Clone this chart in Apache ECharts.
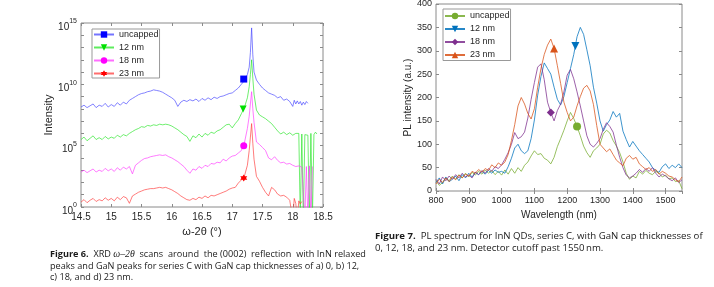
<!DOCTYPE html>
<html><head><meta charset="utf-8">
<script src="https://cdn.jsdelivr.net/npm/echarts@6/dist/echarts.min.js"></script>
<style>html,body{margin:0;padding:0;background:#fff}#c{width:714px;height:287px}</style>
</head><body><div id="c"></div>
<script>
// ---------- Figure 6 (XRD) : x in degrees, values are log10(intensity); -1 = detector drop-out ----------
const xrdX = [14.50,14.55,14.60,14.65,14.70,14.75,14.80,14.85,14.90,14.95,
  15.00,15.05,15.10,15.15,15.20,15.25,15.30,15.35,15.40,15.45,
  15.50,15.55,15.60,15.65,15.70,15.75,15.80,15.85,15.90,15.95,
  16.00,16.05,16.10,16.15,16.20,16.25,16.30,16.35,16.40,16.45,
  16.50,16.55,16.60,16.65,16.70,16.75,16.80,16.85,16.90,16.95,
  17.00,17.05,17.10,17.15,17.20,17.25,
  17.28,17.30,17.32,17.34,17.36,
  17.40,17.45,17.50,17.55,17.60,17.65,17.70,17.75,17.80,17.85,17.90,17.95,
  18.000,18.025,18.050,18.075,18.100,18.125,18.150,18.175,18.200,18.225,18.250,18.275,18.300,18.325,18.350,18.375,18.400];
const xrdUncappedLog = [8.15,8.30,8.10,8.25,8.40,8.10,8.30,8.20,8.45,8.15,
  8.35,8.20,8.50,8.30,8.55,8.40,8.70,8.85,9.00,9.15,
  9.25,9.30,9.40,9.45,9.55,9.50,9.45,9.35,9.20,9.05,
  8.90,8.70,8.20,8.55,8.70,8.60,8.75,8.65,8.80,8.60,
  8.85,8.70,8.90,8.75,8.95,8.85,9.00,9.05,9.15,9.25,
  9.30,9.50,9.70,10.00,10.30,10.80,
  11.40,12.60,14.60,12.40,11.00,
  10.35,10.00,9.70,9.50,9.30,9.20,9.10,8.90,9.00,8.70,8.80,8.60,
  8.20,8.70,8.40,8.65,8.40,8.60,8.30,8.55,8.35,8.60,8.45,null,null,null,null,null,null];
const xrd12Log = [5.50,5.70,5.40,5.60,5.80,5.50,5.65,5.50,5.75,5.55,
  5.70,5.60,5.85,5.70,5.90,5.80,6.00,6.15,6.30,6.40,
  6.55,6.50,6.65,6.60,6.70,6.65,6.75,6.70,6.75,6.70,
  6.60,6.45,6.30,6.10,5.90,5.75,5.35,5.80,5.65,5.95,
  5.70,6.00,5.85,6.10,6.00,6.20,6.30,6.50,6.70,6.75,
  6.45,6.80,7.10,7.60,8.10,8.90,
  9.80,10.80,12.00,10.50,9.20,
  7.90,7.50,7.35,7.20,7.00,6.80,6.50,6.20,5.95,6.10,5.90,6.05,
  5.85,5.95,6.00,5.90,6.00,-1,5.95,-1,5.90,6.05,5.85,-1,6.00,-1,5.90,6.10,5.95];
const xrd18Log = [2.85,3.00,2.80,2.95,3.10,2.85,3.00,2.90,3.15,2.95,
  3.10,2.90,3.20,3.00,3.25,3.10,3.30,2.70,3.40,3.60,
  3.80,3.95,4.00,4.10,4.15,4.20,4.25,4.20,4.25,4.10,
  4.00,3.85,3.70,3.50,3.30,3.00,2.75,3.10,3.00,3.30,
  3.15,3.40,3.30,3.55,3.50,3.65,3.60,3.90,3.75,4.00,
  4.15,4.20,4.40,4.60,5.20,6.40,
  7.40,8.40,9.40,8.00,6.90,
  5.30,5.10,4.85,4.60,4.00,3.85,4.10,3.80,3.60,3.65,3.50,3.55,
  3.40,3.50,3.30,3.45,3.35,3.40,3.25,3.40,-1,3.30,-1,3.35,-1,3.30,null,null,null];
const xrd23Log = [0.40,0.60,0.35,0.55,0.70,0.45,0.60,0.50,0.75,0.55,
  0.70,0.50,0.80,0.60,0.85,0.75,0.30,0.90,1.05,1.20,
  1.30,1.40,1.45,1.50,1.50,1.55,1.60,1.55,1.60,1.50,
  1.40,1.25,1.10,0.90,0.75,0.60,0.55,0.70,0.60,0.80,
  0.70,0.90,0.75,0.95,0.90,1.00,1.10,1.20,1.30,1.45,
  1.55,1.60,1.95,2.20,2.50,3.40,
  4.60,5.70,6.80,5.20,3.90,
  2.50,2.10,1.60,1.20,0.90,1.60,1.40,1.05,0.90,0.95,0.80,0.55,
  -1,0.70,0.30,-1,0.50,0.25,0.45,null,null,null,null,null,null,null,null,null,null];
const xrdNames = ['uncapped','12 nm','18 nm','23 nm'];
const xrdMarkerX = [17.19,17.18,17.19,17.19];
const xrdMarkerLog = [10.43,7.99,5.00,2.36];

// ---------- Figure 7 (PL) ----------
const plWavelength = [800,810,820,830,840,850,860,870,880,890,
  900,910,920,930,940,950,960,970,980,990,
  1000,1010,1020,1030,1040,1050,1060,1070,1080,1090,
  1100,1110,1120,1130,1140,1150,1160,1170,1180,1190,
  1200,1210,1220,1230,1240,1250,1260,1270,1280,1290,
  1300,1310,1320,1330,1340,1350,1360,1370,1380,1390,
  1400,1410,1420,1430,1440,1450,1460,1470,1480,1490,
  1500,1510,1520,1530,1540,1550];
const plUncapped = [22,12,18,28,22,32,25,35,28,38,
  30,40,34,42,36,45,38,44,35,42,
  34,45,36,48,38,50,42,55,62,75,
  86,78,80,70,66,58,72,95,112,130,
  150,168,155,138,118,96,82,72,86,92,
  100,122,130,124,108,96,82,62,38,25,
  32,28,42,36,44,38,35,42,38,30,
  34,26,28,20,22,5];
const pl12 = [18,28,15,30,20,25,32,22,35,28,
  38,30,40,35,42,36,44,38,45,40,
  42,38,52,70,92,100,86,80,86,112,
  152,205,245,274,262,250,222,196,184,202,
  232,262,292,330,350,335,302,268,222,188,
  150,128,142,152,170,158,166,128,110,94,
  106,96,86,78,70,62,50,44,40,52,
  58,48,55,50,58,50];
const pl18 = [25,15,30,22,32,25,35,28,38,30,
  34,28,40,35,44,38,48,42,52,48,
  56,68,82,100,125,112,116,126,156,196,
  232,265,272,238,190,168,150,172,186,212,
  248,260,240,212,182,150,118,100,94,102,
  112,132,146,138,126,98,72,50,34,28,
  32,38,46,40,48,42,50,38,30,36,
  32,26,22,28,18,24];
const pl23 = [15,25,18,28,20,30,24,34,28,36,
  32,42,38,46,40,48,44,56,50,60,
  55,62,78,108,142,182,200,186,166,154,
  176,222,262,292,312,325,305,268,230,190,
  168,150,158,182,202,220,226,214,185,140,
  100,92,84,90,78,66,60,54,70,76,
  68,72,58,52,46,50,42,46,36,42,
  38,32,30,24,20,30];
const plNames = ['uncapped','12 nm','18 nm','23 nm'];
const plMarkerX = [1230,1225,1150,1160];
const plMarkerY = [138,310,168,305];

// ---------- styling ----------
const xrdLineColors = ['rgba(70,70,255,0.75)','rgba(40,230,40,0.75)','rgba(255,60,255,0.75)','rgba(255,60,60,0.75)'];
const xrdMarkColors = ['#0000ff','#00e000','#ff00ff','#ff0000'];
const hexagram = 'path://M0,-10L2.9,-5L8.66,-5L5.8,0L8.66,5L2.9,5L0,10L-2.9,5L-8.66,5L-5.8,0L-8.66,-5L-2.9,-5Z';
const xrdSymbols = ['rect','triangle','circle',hexagram];
const xrdRot = [0,180,0,0];
const plColors = ['#77AC30','#0072BD','#7E2F8E','#D95319'];
const plSymbols = ['circle','triangle','diamond','triangle'];
const plRot = [0,180,0,0];
const plLabel = n => n + ' ';   // distinct series names for 2nd chart

const XRD = [xrdUncappedLog, xrd12Log, xrd18Log, xrd23Log];
const PL = [plUncapped, pl12, pl18, pl23];
const axisGray = '#8a8a8a', txt = '#262626';
const series = [];
XRD.forEach((arr, k) => {
  series.push({
    type: 'line', name: xrdNames[k], xAxisIndex: 0, yAxisIndex: 0,
    data: xrdX.map((x, i) => [x, arr[i] == null ? null : Math.pow(10, arr[i])]),
    symbol: xrdSymbols[k], symbolRotate: xrdRot[k], showSymbol: false,
    lineStyle: { color: xrdLineColors[k], width: 0.9 }, itemStyle: { color: xrdMarkColors[k] },
    clip: true, z: 2
  });
});
PL.forEach((arr, k) => {
  series.push({
    type: 'line', name: plLabel(plNames[k]), xAxisIndex: 2, yAxisIndex: 2,
    data: plWavelength.map((x, i) => [x, arr[i]]),
    symbol: plSymbols[k], symbolRotate: plRot[k], showSymbol: false,
    lineStyle: { color: plColors[k], width: 0.9, opacity: 0.85 }, itemStyle: { color: plColors[k] },
    clip: true, z: 2
  });
});
XRD.forEach((arr, k) => {
  series.push({
    type: 'scatter', name: xrdNames[k], xAxisIndex: 0, yAxisIndex: 0,
    data: [[xrdMarkerX[k], Math.pow(10, xrdMarkerLog[k])]],
    symbol: xrdSymbols[k], symbolRotate: xrdRot[k], symbolSize: 7,
    itemStyle: { color: xrdMarkColors[k], opacity: 1 }, z: 5
  });
});
PL.forEach((arr, k) => {
  series.push({
    type: 'scatter', name: plLabel(plNames[k]), xAxisIndex: 2, yAxisIndex: 2,
    data: [[plMarkerX[k], plMarkerY[k]]],
    symbol: plSymbols[k], symbolRotate: plRot[k], symbolSize: 8,
    itemStyle: { color: plColors[k], opacity: 1 }, z: 5
  });
});

const tick = { show: true, inside: true, length: 3, lineStyle: { color: axisGray, width: 1 } };
const noLine = { show: false };
const FONT = 'Liberation Sans, Arial, sans-serif';
const logLabel = v => { const e = Math.round(Math.log10(v)); return e % 5 === 0 ? '{b|10}{s|' + e + '}' : ''; };

const legendBase = {
  orient: 'vertical', itemWidth: 20, itemHeight: 8, itemGap: 4, selectedMode: false,
  backgroundColor: '#fff', borderColor: '#999', borderWidth: 1, borderRadius: 0,
  textStyle: { fontSize: 9, color: txt, fontFamily: FONT, lineHeight: 8 },
  formatter: n => n.trim()
};

const capFont = 'Open Sans';
const mkRich = cs => ({
  b: { fontWeight: 'bold', fontSize: cs, fontFamily: capFont, fill: '#1a1a1a' },
  i: { fontStyle: 'italic', fontSize: cs + 0.6, fontFamily: 'Liberation Serif', fill: '#1a1a1a' },
  n: { fontSize: cs, fontFamily: capFont, fill: '#1a1a1a' }
});
const CS6 = 9.15, CS7 = 9.65;

const option = {
  animation: false,
  backgroundColor: '#fff',
  grid: [
    { left: 81, top: 23, width: 242, height: 184, show: true, borderColor: axisGray, borderWidth: 1, backgroundColor: 'transparent', outerBoundsMode: 'none' },
    { left: 436, top: 4, width: 246, height: 187, show: true, borderColor: axisGray, borderWidth: 1, backgroundColor: 'transparent', outerBoundsMode: 'none' }
  ],
  xAxis: [
    { type: 'value', gridIndex: 0, min: 14.5, max: 18.5, interval: 0.5, position: 'bottom',
      axisLine: noLine, axisTick: tick, splitLine: { show: false },
      axisLabel: { fontSize: 10, color: txt, fontFamily: FONT, margin: 5 },
      name: 'ω-2θ (°)', nameLocation: 'middle', nameGap: 18,
      nameTextStyle: { fontSize: 11, color: txt, fontFamily: FONT } },
    { type: 'value', gridIndex: 0, min: 14.5, max: 18.5, interval: 0.5, position: 'top',
      axisLine: noLine, axisTick: tick, splitLine: { show: false }, axisLabel: { show: false } },
    { type: 'value', gridIndex: 1, min: 800, max: 1550, interval: 100, position: 'bottom',
      axisLine: noLine, axisTick: tick, splitLine: { show: false },
      axisLabel: { fontSize: 9, color: txt, fontFamily: FONT, margin: 5, showMaxLabel: false, formatter: v => String(v) },
      name: 'Wavelength (nm)', nameLocation: 'middle', nameGap: 15,
      nameTextStyle: { fontSize: 10, color: txt, fontFamily: FONT } },
    { type: 'value', gridIndex: 1, min: 800, max: 1550, interval: 100, position: 'top',
      axisLine: noLine, axisTick: tick, splitLine: { show: false }, axisLabel: { show: false } }
  ],
  yAxis: [
    { type: 'log', logBase: 10, gridIndex: 0, min: 1, max: 1e15, interval: 1, splitNumber: 15, position: 'left',
      axisLine: noLine, axisTick: tick, splitLine: { show: false },
      axisLabel: { formatter: logLabel, margin: 4, padding: [4, 0, 0, 0],
        rich: { b: { fontSize: 10, color: txt, fontFamily: FONT, lineHeight: 14, verticalAlign: 'bottom' },
                s: { fontSize: 7, color: txt, fontFamily: FONT, lineHeight: 14, verticalAlign: 'top' } } },
      name: 'Intensity', nameLocation: 'middle', nameGap: 27,
      nameTextStyle: { fontSize: 11, color: txt, fontFamily: FONT } },
    { type: 'log', logBase: 10, gridIndex: 0, min: 1, max: 1e15, interval: 1, splitNumber: 15, position: 'right',
      axisLine: noLine, axisTick: tick, splitLine: { show: false }, axisLabel: { show: false } },
    { type: 'value', gridIndex: 1, min: 0, max: 400, interval: 50, position: 'left',
      axisLine: noLine, axisTick: tick, splitLine: { show: false },
      axisLabel: { fontSize: 9, color: txt, fontFamily: FONT, margin: 4 },
      name: 'PL intensity (a.u.)', nameLocation: 'middle', nameGap: 22,
      nameTextStyle: { fontSize: 10, color: txt, fontFamily: FONT } },
    { type: 'value', gridIndex: 1, min: 0, max: 400, interval: 50, position: 'right',
      axisLine: noLine, axisTick: tick, splitLine: { show: false }, axisLabel: { show: false } }
  ],
  legend: [
    Object.assign({}, legendBase, { left: 92, top: 29, padding: [1, 1, 0, 1], data: xrdNames }),
    Object.assign({}, legendBase, { left: 443, top: 9, padding: [2.5, 1, 1, 1], data: plNames.map(plLabel) })
  ],
  series: series,
  graphic: [
    { type: 'text', left: 50, top: 248.5, silent: true,
      style: { text: '{b|Figure 6.}{n|  XRD }{i|ω–2θ}{n|  scans  around  the (0002)  reflection  with InN relaxed}\n' +
                     '{n|peaks and GaN peaks for series C with GaN cap thicknesses of a) 0, b) 12,}\n' +
                     '{n|c) 18, and d) 23 nm.}',
               rich: mkRich(CS6), fontSize: CS6, fontFamily: capFont, fill: '#1a1a1a', lineHeight: 11.6 } },
    { type: 'text', left: 375, top: 230.5, silent: true,
      style: { text: '{b|Figure 7.}{n|  PL spectrum for InN QDs, series C, with GaN cap thicknesses of}\n' +
                     '{n|0, 12, 18, and 23 nm. Detector cutoff past 1550\u2009nm.}',
               rich: mkRich(CS7), fontSize: CS7, fontFamily: capFont, fill: '#1a1a1a', lineHeight: 12 } }
  ]
};
const chart = echarts.init(document.getElementById('c'), null, { renderer: 'canvas' });
chart.setOption(option);
</script></body></html>
